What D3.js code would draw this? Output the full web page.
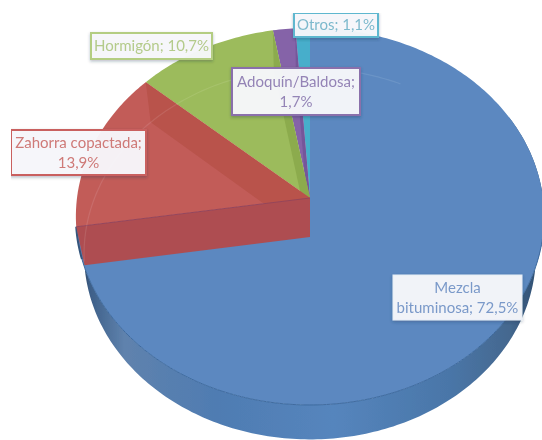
<!DOCTYPE html>
<html lang="es">
<head>
    <meta charset="UTF-8">
    <title>Pavimentos</title>
    <style>
        html, body { margin: 0; padding: 0; background: #fff; }
        svg { display: block; }
        text { font-family: Lato, "Open Sans", sans-serif; font-size: 15px; text-anchor: middle; }
    </style>
</head>
<body>
    <script src="https://cdn.jsdelivr.net/npm/d3@7"></script>
    <script>
        const w = 542
        const h = 440

        // datos
        const categorias = ["Mezcla bituminosa", "Zahorra copactada", "Hormigón", "Adoquín/Baldosa", "Otros"]
        const valores = [72.5, 13.9, 10.7, 1.7, 1.1]
        const etiquetas = [
            ["Mezcla", "bituminosa; 72,5%"],
            ["Zahorra copactada;", "13,9%"],
            ["Hormigón; 10,7%"],
            ["Adoquín/Baldosa;", "1,7%"],
            ["Otros; 1,1%"]
        ]

        // colores y cajas de las etiquetas, en el mismo orden que categorias
        const colorCara = ["#5b88c0", "#c25c59", "#9cbb5b", "#8564a8", "#47aecb"]
        const colorPared = ["#5b88c0", "#b9534b", "#8cab4e", "#75579a", "#3f9fba"]
        const colorTexto = ["#7a99c9", "#cf7a78", "#b4cb8b", "#9484b6", "#7db9cd"]
        const colorBorde = ["#e6edf6", "#c9605e", "#b4cd82", "#8a70ab", "#5fb7cf"]
        const cajas = [[393, 275, 129, 45], [11, 130, 135, 45], [91, 33, 121, 26], [232, 68, 128, 47], [294, 13, 84, 24]]

        const svg = d3.select("body")
            .append("svg")
            .attr("width", w)
            .attr("height", h)

        const defs = svg.append("defs")

        // foto algo borrosa
        defs.append("filter").attr("id", "blur")
            .attr("x", 0).attr("y", 0).attr("width", 1).attr("height", 1)
            .append("feGaussianBlur").attr("stdDeviation", 0.7)

        const grad = defs.append("linearGradient").attr("id", "lateral")
            .attr("gradientUnits", "userSpaceOnUse")
            .attr("x1", 78).attr("x2", 542).attr("y1", 0).attr("y2", 0)
        const stops = [[0, "#1f3147"], [0.025, "#3d5f88"], [0.1, "#5f82ad"], [0.3, "#4f7cb2"], [0.55, "#5585bd"], [0.8, "#4a76a8"], [0.93, "#44688f"], [1, "#2c4a6d"]]
        stops.forEach(s => grad.append("stop").attr("offset", s[0]).attr("stop-color", s[1]))

        defs.append("filter").attr("id", "sombra")
            .attr("x", "-10%").attr("y", "-15%").attr("width", "120%").attr("height", "135%")
            .append("feDropShadow")
            .attr("dx", 0).attr("dy", 1.5).attr("stdDeviation", 1.5)
            .attr("flood-color", "#20304a").attr("flood-opacity", 0.3)

        // plano en perspectiva: cara superior y base del cilindro
        const planoTop = { cy: 198, bx: 233, ay: 186.7, k: 0.098 }
        const planoBase = { cy: 237, bx: 225, ay: 184, k: 0.091 }

        function proyecta(a, p) {
            const s = Math.sin(a), c = Math.cos(a)
            const f = 1 + p.k * c
            return [310 + p.bx * s / f, p.cy - p.ay * c / f]
        }

        function arco(a0, a1, p) {
            const n = Math.max(2, Math.ceil(Math.abs(a1 - a0) * 60))
            return d3.range(n + 1).map(i => proyecta(a0 + (a1 - a0) * i / n, p))
        }

        const linea = d3.line()
        const sectores = d3.pie().sort(null)(valores)

        const g = svg.append("g").attr("filter", "url(#blur)")

        // pared exterior de la mezcla bituminosa
        const azul = sectores[0]
        const pA0 = 1.1
        const exterior = arco(pA0, azul.endAngle, planoTop).concat(arco(azul.endAngle, pA0, planoBase))
        g.append("path")
            .attr("d", linea(exterior) + "Z")
            .attr("fill", "url(#lateral)")

        // caras superiores: el rojo va al final porque su pared tapa al resto
        const orden = [0, 4, 3, 2, 1]
        orden.forEach(i => {
            const d = sectores[i]
            const cara = [[310, planoTop.cy]].concat(arco(d.startAngle, d.endAngle, planoTop))
            g.append("path")
                .attr("d", linea(cara) + "Z")
                .attr("fill", colorCara[i])
            if (i === 0) {
                g.append("path")
                    .attr("d", linea(arco(1.75, d.endAngle - 0.17, planoTop)))
                    .attr("fill", "none")
                    .attr("stroke", "#3f6b9f")
                    .attr("stroke-width", 1)
            } else if (i !== 4) {
                // pared interior del corte
                const t = proyecta(d.endAngle, planoTop)
                const b = proyecta(d.endAngle, planoBase)
                g.append("path")
                    .attr("d", linea([t, [310, planoTop.cy], [310, planoBase.cy], b]) + "Z")
                    .attr("fill", colorPared[i])
            }
        })

        // pared delantera del rojo, sobre el azul
        const corte = sectores[1].startAngle
        g.append("path")
            .attr("d", linea(arco(corte - 0.17, corte, planoTop)))
            .attr("fill", "none")
            .attr("stroke", "#35557c")
            .attr("stroke-width", 2)
        g.append("path")
            .attr("d", linea([proyecta(corte, planoTop), [310, planoTop.cy], [310, planoBase.cy], proyecta(corte, planoBase)]) + "Z")
            .attr("fill", "#ae4e51")
        g.append("path")
            .attr("d", linea([proyecta(corte, planoTop), [310, planoTop.cy]]))
            .attr("stroke", "#96455a")
            .attr("stroke-width", 1)
            .attr("fill", "none")

        // borde de la base que se ve a traves de las caras
        g.append("path")
            .attr("d", linea(arco(corte + 0.02, 2 * Math.PI + 0.45, planoBase)))
            .attr("fill", "none")
            .attr("stroke", "#fff")
            .attr("stroke-opacity", 0.1)
            .attr("stroke-width", 1.2)

        // etiquetas
        const etiq = g.selectAll("g.etiqueta")
            .data(categorias)
            .join("g")
            .attr("class", "etiqueta")

        etiq.append("rect")
            .attr("x", (d, i) => cajas[i][0])
            .attr("y", (d, i) => cajas[i][1])
            .attr("width", (d, i) => cajas[i][2])
            .attr("height", (d, i) => cajas[i][3])
            .attr("fill", "#f7f8fb")
            .attr("fill-opacity", 0.96)
            .attr("stroke", (d, i) => colorBorde[i])
            .attr("stroke-width", (d, i) => i === 0 ? 1 : 2)
            .attr("filter", "url(#sombra)")

        etiq.each(function (d, i) {
            const lineas = etiquetas[i]
            const c = cajas[i]
            const medio = c[1] + c[3] / 2
            d3.select(this).selectAll("text")
                .data(lineas)
                .join("text")
                .attr("x", c[0] + c[2] / 2)
                .attr("y", (t, j) => medio + 5 + (j - (lineas.length - 1) / 2) * 20)
                .attr("fill", colorTexto[i])
                .text(t => t)
        })
    </script>
</body>
</html>
